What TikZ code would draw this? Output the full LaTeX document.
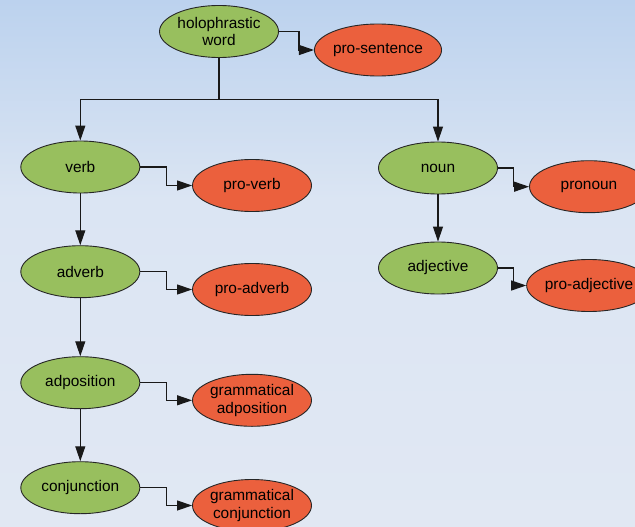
\documentclass[tikz,border=0pt]{standalone}
\usepackage{fontspec}
\setmainfont{Liberation Sans}
\usetikzlibrary{shapes.geometric,arrows.meta}
\definecolor{gfill}{HTML}{98BF5E}
\definecolor{ofill}{HTML}{EB603D}
\definecolor{bgtop}{HTML}{BCD2EE}
\definecolor{bgmid}{HTML}{DBE5F3}
\definecolor{bgbot}{HTML}{E1E8F3}
\tikzset{
  base/.style={ellipse, draw=black!85, line width=0.9pt, minimum width=119pt, minimum height=52pt, inner sep=0pt, align=center, font=\fontsize{15.4}{17.5}\selectfont},
  gnode/.style={base, fill=gfill},
  onode/.style={base, fill=ofill},
  arr/.style={line width=1.1pt, draw=black!90, -{Triangle[length=15pt,width=10pt]}},
  ln/.style={line width=1.1pt, draw=black!90}
}
\begin{document}
\begin{tikzpicture}[x=1pt,y=-1pt]
\useasboundingbox (0,0) rectangle (635,527);
\clip (0,0) rectangle (635,527);
\shade[top color=bgtop, bottom color=bgmid] (0,0) rectangle (635,200);
\shade[top color=bgmid, bottom color=bgbot] (0,200) rectangle (635,527);

\node[gnode] (holo) at (219,31.5) {holophrastic\\word};
\node[onode] (prosent) at (378,50) {pro-sentence};

\node[gnode] (verb) at (80.3,167) {verb};
\node[onode] (proverb) at (252,185.5) {pro-verb};
\node[gnode] (adverb) at (80.3,271.7) {adverb};
\node[onode] (proadverb) at (252,289.5) {pro-adverb};
\node[gnode] (adpos) at (80.3,382.7) {adposition};
\node[onode] (gadpos) at (252,400.3) {grammatical\\adposition};
\node[gnode] (conj) at (80.3,487.7) {conjunction};
\node[onode] (gconj) at (252,505.5) {grammatical\\conjunction};

\node[gnode] (noun) at (438,168) {noun};
\node[onode] (pronoun) at (589,186.7) {pronoun};
\node[gnode] (adj) at (438,268) {adjective};
\node[onode] (proadj) at (589,285.5) {pro-adjective};

\coordinate (split) at (219,99.3);
\draw[ln] (holo.south) -- (split);
\draw[arr] (split) -| (verb.north);
\draw[arr] (split) -| (noun.north);

\draw[arr] (holo.east) -- ++(20,0) |- (prosent.west);
\draw[arr] (verb.east) -- ++(26.5,0) |- (proverb.west);
\draw[arr] (adverb.east) -- ++(26.5,0) |- (proadverb.west);
\draw[arr] (adpos.east) -- ++(26.5,0) |- (gadpos.west);
\draw[arr] (conj.east) -- ++(26.5,0) |- (gconj.west);
\draw[arr] (noun.east) -- ++(15.6,0) |- (pronoun.west);
\draw[arr] (adj.east) -- ++(15.6,0) |- (proadj.west);

\draw[arr] (verb.south) -- (adverb.north);
\draw[arr] (adverb.south) -- (adpos.north);
\draw[arr] (adpos.south) -- (conj.north);
\draw[arr] (noun.south) -- (adj.north);
\end{tikzpicture}
\end{document}
